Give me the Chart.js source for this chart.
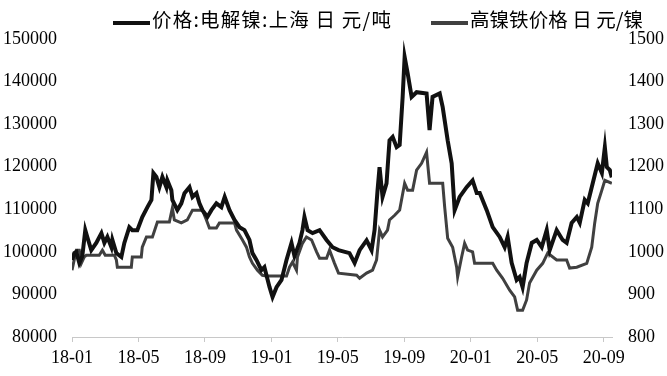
<!DOCTYPE html>
<html>
<head>
<meta charset="utf-8">
<script src="https://cdn.jsdelivr.net/npm/chart.js@4/dist/chart.umd.min.js"></script>
<style>
	html, body { margin: 0; padding: 0; background: #fff; }
</style>
</head>
<body>
<canvas id="lc-nickel" width="667" height="376"></canvas>
<script>
// x values are months counted from 2018-01
const nickelLabel = "价格:电解镍:上海 日 元/吨";
const nifeLabel = "高镍铁价格 日 元/镍";

const nickelMonth = [0, 0.14, 0.26, 0.44, 0.62, 0.8, 0.92, 1.16, 1.46, 1.77, 1.95, 2.13, 2.37, 2.43, 2.67, 2.97, 3.15, 3.45, 3.63, 3.93,
	4.23, 4.54, 4.78, 4.9, 5.08, 5.26, 5.44, 5.68, 5.74, 5.98, 6.04, 6.34, 6.58, 6.77, 7.07, 7.25, 7.49, 7.67, 7.85, 8.15,
	8.39, 8.69, 8.99, 9.19, 9.48, 9.78, 10.08, 10.38, 10.68, 10.86, 11.1, 11.4, 11.58, 11.89, 12.07, 12.31, 12.61, 12.91, 13.21, 13.39,
	13.69, 13.87, 13.99, 14.18, 14.48, 14.9, 15.32, 15.68, 16.04, 16.7, 17.01, 17.31, 17.73, 18.03, 18.21, 18.39, 18.51, 18.69, 18.93, 19.11,
	19.3, 19.54, 19.72, 19.9, 20.02, 20.2, 20.44, 20.74, 21.34, 21.52, 21.7, 22.13, 22.31, 22.61, 22.85, 23.03, 23.33, 23.75, 24.11, 24.36,
	24.54, 24.96, 25.32, 25.74, 26.04, 26.22, 26.46, 26.76, 26.94, 27.12, 27.36, 27.67, 27.97, 28.27, 28.57, 28.75, 29.17, 29.53, 29.77, 30.07,
	30.38, 30.56, 30.86, 31.04, 31.34, 31.64, 31.89, 32.07, 32.19, 32.37, 32.49];
const nickelPrice = [98100, 99700, 100000, 97400, 99000, 105100, 103500, 100400, 102100, 104400, 102100, 103500, 101100, 102800, 99700, 98800, 102100, 105800, 105100, 105100,
	108200, 110500, 112200, 118500, 117600, 115200, 117600, 115200, 116800, 114500, 112200, 109800, 111400, 113800, 115200, 112900, 113800, 111400, 109800, 108200,
	109800, 111400, 110500, 112900, 109800, 107500, 105800, 105100, 102800, 99700, 98100, 95700, 96400, 91700, 89400, 91700, 93400, 98100, 102100, 99000,
	102100, 105100, 108200, 105100, 104400, 105100, 102800, 101100, 100400, 99700, 97400, 100400, 102700, 100400, 105100, 114500, 119900, 112900, 116100, 126200,
	127000, 124600, 125100, 136400, 145800, 142000, 136400, 137500, 137200, 128600, 136400, 137200, 134000, 126200, 120800, 109800, 112900, 115200, 116800, 113800,
	113800, 109800, 105800, 103500, 101100, 103500, 97400, 93400, 94100, 91700, 97400, 102100, 102800, 101100, 105100, 100400, 105100, 102800, 102100, 106800,
	108200, 106800, 112200, 111400, 116100, 120800, 118500, 124600, 119900, 119200, 117500];

const nifeMonth = [0, 0.26, 0.44, 0.56, 0.74, 0.86, 1.64, 1.83, 2.0, 2.55, 2.67, 2.73, 3.57, 3.63, 4.17, 4.23, 4.48, 4.84, 5.14, 5.86,
	6.04, 6.16, 6.58, 6.94, 7.25, 7.85, 8.09, 8.27, 8.69, 8.87, 9.78, 9.9, 10.26, 10.5, 10.68, 10.86, 11.16, 11.46, 11.7, 12.91,
	13.09, 13.27, 13.51, 13.57, 13.87, 14.11, 14.42, 14.72, 14.9, 15.32, 15.5, 15.8, 16.04, 17.13, 17.31, 17.73, 18.09, 18.33, 18.51, 18.69,
	18.99, 19.11, 19.42, 19.72, 20.02, 20.2, 20.5, 20.74, 21.04, 21.34, 21.52, 22.31, 22.43, 22.61, 22.91, 23.15, 23.21, 23.45, 23.63, 23.81,
	24.11, 24.23, 25.32, 25.56, 25.92, 26.34, 26.64, 26.82, 27.12, 27.36, 27.54, 27.97, 28.33, 28.63, 29.17, 29.77, 29.95, 30.38, 30.98, 31.28,
	31.46, 31.64, 31.89, 32.07, 32.49];
const nifePrice = [957, 1004, 1004, 973, 988, 992, 992, 1004, 992, 992, 981, 964, 964, 988, 988, 1011, 1035, 1035, 1070, 1070,
	1103, 1075, 1068, 1075, 1098, 1098, 1075, 1056, 1056, 1068, 1068, 1051, 1028, 1011, 988, 973, 957, 945, 943, 943,
	964, 976, 957, 988, 1020, 1035, 1028, 1000, 985, 985, 1004, 973, 950, 945, 938, 950, 957, 981, 1051, 1035,
	1051, 1075, 1086, 1098, 1161, 1145, 1145, 1192, 1208, 1234, 1161, 1161, 1105, 1032, 1011, 964, 941, 988, 1020, 1004,
	1000, 973, 973, 957, 938, 910, 894, 863, 863, 887, 927, 957, 973, 997, 981, 981, 962, 964, 973, 1011,
	1068, 1114, 1145, 1168, 1161];

const tickFont = { family: "'Liberation Serif', serif", size: 18 };

function monthLabel(m) {
	let yy = 18 + Math.floor(m / 12);
	let mm = (m % 12) + 1;
	return yy + "-" + (mm < 10 ? "0" + mm : mm);
}

// top legend drawn by hand so it sits where the original one does
const topLegend = {
	id: "topLegend",
	afterDraw(chart) {
		let ctx = chart.ctx;
		let items = [
			{ text: nickelLabel, color: "#111111", x: 113, w: 240 },
			{ text: nifeLabel, color: "#404040", x: 431, w: 173 },
		];
		ctx.save();
		ctx.font = "19.5px 'Noto Sans CJK SC'";
		ctx.textBaseline = "middle";
		ctx.fillStyle = "#000";
		items.forEach((it) => {
			ctx.strokeStyle = it.color;
			ctx.lineWidth = 4;
			ctx.beginPath();
			ctx.moveTo(it.x, 23);
			ctx.lineTo(it.x + 37, 23);
			ctx.stroke();
			ctx.letterSpacing = "0px";
			let extra = it.w - ctx.measureText(it.text).width;
			ctx.letterSpacing = Math.max(0, extra / it.text.length).toFixed(2) + "px";
			ctx.fillText(it.text, it.x + 39, 20);
		});
		ctx.restore();
	},
};

let ctx = document.getElementById("lc-nickel").getContext("2d");

new Chart(ctx, {
	type: "line",
	data: {
		datasets: [
			{
				label: nickelLabel,
				data: nickelMonth.map((m, i) => ({ x: m, y: nickelPrice[i] })),
				borderColor: "#111111",
				backgroundColor: "#111111",
				borderWidth: 4,
				pointRadius: 0,
				tension: 0,
				xAxisID: "xAxis",
				yAxisID: "yAxis",
			},
			{
				label: nifeLabel,
				data: nifeMonth.map((m, i) => ({ x: m, y: nifePrice[i] })),
				borderColor: "#404040",
				backgroundColor: "#404040",
				borderWidth: 3,
				pointRadius: 0,
				tension: 0,
				xAxisID: "xAxis",
				yAxisID: "yAxisRight",
			},
		],
	},
	options: {
		responsive: false,
		animation: false,
		layout: { padding: { top: 39, left: 0, right: 0, bottom: 0 } },
		scales: {
			xAxis: {
				type: "linear",
				position: "bottom",
				min: 0,
				max: 32.5,
				border: { display: true, color: "#c8c8c8", width: 1 },
				grid: { drawOnChartArea: false, drawTicks: true, tickLength: 5, color: "#c8c8c8" },
				ticks: {
					stepSize: 4,
					includeBounds: false,
					maxRotation: 0,
					autoSkip: false,
					padding: 5,
					color: "#000",
					font: tickFont,
					callback: (v) => monthLabel(v),
				},
				afterFit: (scale) => { scale.height = 39; },
			},
			yAxis: {
				position: "left",
				min: 80000,
				max: 150000,
				border: { display: false },
				grid: { display: false, drawTicks: false },
				ticks: { stepSize: 10000, padding: 15, color: "#000", font: tickFont, callback: (v) => String(v) },
				afterFit: (scale) => { scale.width = 72; },
			},
			yAxisRight: {
				position: "right",
				min: 800,
				max: 1500,
				border: { display: false },
				grid: { display: false, drawTicks: false },
				ticks: { stepSize: 100, padding: 16, color: "#000", font: tickFont, callback: (v) => String(v) },
				afterFit: (scale) => { scale.width = 55; },
			},
		},
		plugins: {
			legend: { display: false },
			tooltip: { enabled: false },
		},
	},
	plugins: [topLegend],
});
</script>
</body>
</html>
